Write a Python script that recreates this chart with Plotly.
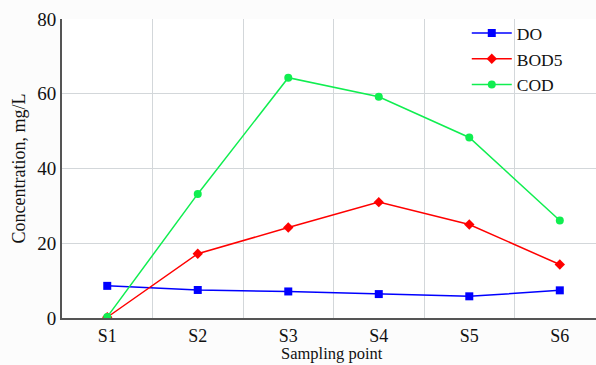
import plotly.graph_objects as go

# Sampling sites and measured concentrations (mg/L)
sites = ["S1", "S2", "S3", "S4", "S5", "S6"]
do_vals = [8.6, 7.5, 7.1, 6.4, 5.8, 7.4]
bod5_vals = [0.2, 17.2, 24.2, 31.0, 25.0, 14.3]
cod_vals = [0.3, 33.2, 64.3, 59.2, 48.3, 26.1]
y_ticks = [0, 20, 40, 60, 80]

FONT = "Times New Roman"

fig = go.Figure()
fig.add_trace(go.Scatter(
    x=sites, y=do_vals, name="DO", mode="lines+markers",
    line=dict(color="#0000ff", width=1.5),
    marker=dict(symbol="square", size=8, color="#0000ff"),
))
fig.add_trace(go.Scatter(
    x=sites, y=bod5_vals, name="BOD5", mode="lines+markers",
    line=dict(color="#ff0000", width=1.5),
    marker=dict(symbol="diamond", size=8, color="#ff0000"),
))
fig.add_trace(go.Scatter(
    x=sites, y=cod_vals, name="COD", mode="lines+markers",
    line=dict(color="#10ee50", width=1.5),
    marker=dict(symbol="circle", size=8, color="#10ee50"),
))

fig.update_layout(
    width=596, height=365,
    margin=dict(l=62, r=0, t=19, b=47),
    paper_bgcolor="#fcfcfc", plot_bgcolor="#ffffff",
    font=dict(family=FONT, size=18, color="#111111"),
    showlegend=True,
    legend=dict(
        x=0.758, y=1.013, xanchor="left", yanchor="top",
        bgcolor="rgba(0,0,0,0)", font=dict(family=FONT, size=17.5),
        itemwidth=40, tracegroupgap=0,
    ),
    xaxis=dict(
        type="category", range=[-0.5, 5.40], automargin=False,
        tickson="boundaries", showgrid=True, gridcolor="#d3d7da", gridwidth=1,
        showline=True, linecolor="#555555", linewidth=2,
        ticks="", tickfont=dict(family=FONT, size=18), ticklabelstandoff=0,
        zeroline=False,
    ),
    yaxis=dict(
        range=[0, 80], tickvals=y_ticks, automargin=False,
        showgrid=True, gridcolor="#d3d7da",
        gridwidth=1, showline=True, linecolor="#555555", linewidth=2,
        ticks="", tickfont=dict(family=FONT, size=19), zeroline=False,
        title=dict(text="Concentration, mg/L", font=dict(family=FONT, size=18), standoff=7),
    ),
)

# x-axis title placed just under the category labels
fig.add_annotation(
    text="Sampling point", xref="paper", yref="paper",
    x=0.505, y=-0.153, xanchor="center", yanchor="bottom",
    showarrow=False, borderpad=0,
    font=dict(family=FONT, size=16.5, color="#111111"),
)

fig.write_html("out.html")
